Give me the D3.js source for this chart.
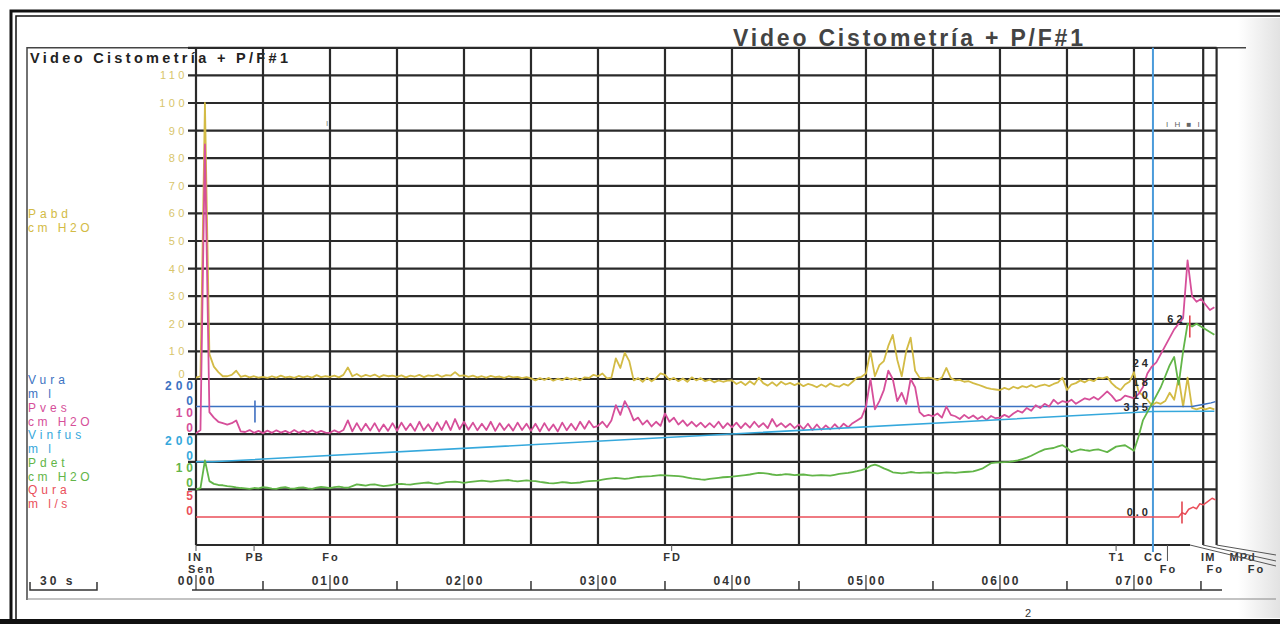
<!DOCTYPE html>
<html>
<head>
<meta charset="utf-8">
<script src="https://cdn.jsdelivr.net/npm/d3@7"></script>
<style>
body { margin: 0; background: #fff; }
svg { display: block; font-family: "Liberation Sans", Arial, sans-serif; }
</style>
</head>
<body>
<svg id="chart" width="1280" height="624"></svg>
<script>
/* Video Cistometria + P/F#1 - urodynamic trace, redrawn with d3 */

// pressure traces are sampled every 2 s, from 00:00 to 07:36
var step = 2;

// Pabd, cmH2O
var pabd = [0.5, 1, 100, 9, 4.5, 2.5, 1, 1, 1.5, 3, 0.8, 1.2, 0.6, 1, 0.5,
  0.8, 0.4, 1, 0.5, 1.2, 0.6, 0.9, 0.4, 1.1, 0.6, 1, 0.5, 1.4, 0.7, 1,
  0.8, 1.2, 0.6, 1.5, 4.2, 1, 1.8, 0.8, 1.5, 1, 1.6, 0.7, 1.4, 1, 1.2,
  0.8, 1.3, 0.6, 1.2, 0.9, 1.5, 0.7, 1.3, 1, 1.6, 0.8, 1.4, 1.2, 2.5, 1.1,
  1.3, 0.8, 1.2, 0.6, 1, 0.5, 1.1, 0.7, 0.9, 0.4, 1, 0.6, 0.8, 0.3, 0.7,
  0.2, -0.5, 0.3, -0.3, 0.4, -0.6, 0.1, -0.4, 0.5, -0.2, 0.3, -0.5, 0.6, 0.4, 1.5,
  1, 2, 0.2, 0.5, 7.5, 4, 9.5, 6.5, -0.5, 0.3, -1, 0.5, -0.8, 0.3, 2,
  1.5, -0.3, 0.4, -0.8, 0.2, -1, 0.6, -0.5, 0.3, -0.8, -0.2, -1.2, -0.5, -1, -0.6,
  -0.5, -1.8, -1, -2.2, -0.8, -2, 0.5, -1.5, -2.4, -1.2, -2.5, -1, -2, -1.4, -2.2,
  -1.5, -2.6, -1.8, -2.2, -3, -2, -2.8, -1.6, -2.5, -2.8, -1.8, -2.4, -1, 0.5, 0.8,
  2, 10, 1, 5, 6.5, 12, 16, 7, 1, 10, 15, 3, 0.5, 0.3, 0.5,
  0.2, -0.4, 0.5, 4, 0.3, -0.5, -0.3, -1, -0.8, -1.5, -2, -2.6, -3.2, -3.6, -3.8,
  -4, -3.2, -3.8, -2.8, -3.4, -2.6, -3, -2.2, -3, -2.4, -2, -2.6, -1.8, -1.2, 0.5,
  -4, -2, -1.5, -0.5, -1.2, -0.2, -0.8, 0.5, 0.2, 0.8, -1.5, -3, -4, -2, -1,
  2.5, -4.5, -6, -7.5, -9.5, -8.5, -9, -8, -5, -7.5, 0.5, -10, 0.5, -10.5, -11,
  -10.5, -11, -10.5, -11];

// Pves, cmH2O
var pves = [0.3, 1.5, 105, 8, 6, 4.5, 4, 3.5, 4, 5, 1, 0.8, 1.5, 0.5, 1.2,
  0.4, 1.3, 0.5, 1.4, 0.6, 1.2, 0.4, 1.5, 0.5, 1.3, 0.6, 1.4, 0.5, 1.2, 0.6,
  0.5, 1.4, 0.6, 1.5, 5, 1, 4, 1.2, 3.8, 1.3, 4, 1, 3.5, 1.2, 4,
  1.2, 4.2, 1.5, 3.8, 1.2, 4.5, 1.4, 3.6, 1.1, 4.3, 1.5, 4.8, 1.5, 5.5, 1.8,
  4.5, 1.6, 4.2, 1.4, 3.8, 1.5, 4.5, 1.2, 4, 1.5, 3.6, 1.3, 4.2, 1.5, 3.8,
  1.2, 3.8, 1, 4, 1.3, 3.5, 1, 4.2, 1.4, 3.8, 1.5, 4.5, 2, 4.8, 2.5,
  3, 4.5, 2.5, 5, 10.5, 7, 12, 9, 5, 6, 3.5, 5, 2.8, 4.5, 3,
  7.5, 4.5, 6, 3.5, 5, 3, 4.5, 2.8, 4.2, 2.5, 4, 2.5, 4.5, 2.2, 4,
  2.5, 4.2, 2.2, 4, 2.4, 4.5, 2.6, 4, 2.2, 5.5, 2.8, 4, 2.5, 3.8, 2.2,
  3.5, 1.8, 3.8, 1.5, 3.5, 1.6, 3.2, 1.8, 3.6, 2, 3.8, 2.5, 4, 5, 6,
  10, 20, 9, 12, 16, 23, 20, 12, 15, 11, 20, 17, 8, 6.5, 7,
  6.5, 7.5, 6, 10, 7, 6.5, 5.5, 7, 5.8, 6.8, 5.5, 6.5, 5.2, 6.6, 5.8,
  6, 7, 6.2, 7.5, 8.5, 7.8, 9.5, 8.5, 10.5, 9.5, 11, 10, 12.5, 11, 12,
  11.5, 12.5, 11, 12, 13, 12.5, 13.5, 12.5, 14, 15.5, 14, 12, 12.5, 14, 13.5,
  13, 14.5, 17, 22, 24.5, 26, 29, 32, 35, 38, 40, 42, 63, 50, 48,
  49, 47, 45, 46];

// Pdet, cmH2O
var pdet = [0, 0.5, 10.5, 3, 2, 1.6, 1.5, 1.2, 1, 0.7, 0.5, 0.4, 0.2, 0.5, 0.4,
  0.8, 0.6, 0.3, 0.2, 0.6, 0.8, 0.4, 0.3, 0.6, 0.7, 0.4, 0.2, 0.6, 0.9, 0.7,
  0.5, 0.8, 1, 0.7, 0.6, 1.2, 1.8, 1.6, 1.4, 1.7, 1.8, 1.5, 1.2, 1.4, 1.6,
  1.9, 2, 1.8, 1.7, 2, 2.2, 2.4, 2.5, 2.2, 2, 2.3, 2.6, 2.7, 2.8, 2.6,
  2.4, 2.6, 2.8, 3, 3.2, 3, 2.8, 3, 3.2, 3.3, 3.4, 3.1, 2.9, 3.1, 3.3,
  3.1, 3, 2.7, 2.5, 2.3, 2.2, 2.4, 2.6, 2.5, 2.3, 2.4, 2.5, 2.8, 3, 3.1,
  3.2, 3.5, 3.8, 4, 4.2, 4, 3.8, 4, 4.3, 4.5, 4.6, 4.7, 4.8, 5, 5.2,
  5.1, 5, 4.9, 4.8, 4.6, 4.3, 4, 3.8, 3.6, 3.5, 3.8, 4, 4.2, 4.4, 4.5,
  4.6, 4.8, 5, 5.2, 5.4, 5.7, 6, 5.9, 5.7, 5.4, 5.2, 5.3, 5.5, 5.4, 5.2,
  5.3, 5.4, 5.2, 5, 5.1, 5.2, 5.1, 5, 5.3, 5.6, 5.8, 6, 6.3, 6.6, 7,
  7.5, 8.5, 9, 8.4, 7.6, 7, 6.2, 6, 5.8, 6, 6.3, 6.1, 6, 6.1, 6.2,
  6, 5.8, 6, 6.2, 6.1, 6, 6.2, 6.3, 6.4, 6.5, 7, 7.5, 8.5, 9.5, 9.7,
  9.8, 9.9, 10, 10.2, 10.5, 11, 11.5, 12.2, 13, 13.8, 14.5, 14.8, 15, 15.6, 16,
  15, 13.5, 14, 14.5, 14.2, 14, 14.3, 14.5, 14, 13.5, 14.5, 15.5, 15.8, 16, 15,
  14, 19, 25, 28, 31, 34, 37, 41, 45, 48, 38, 50, 60, 59, 60,
  59, 58, 57, 56];

// volumes and flow are read at their break points (seconds, value)
var vinfusT = [0, 7.5, 428.5, 456];
var vinfusV = [0, 0, 365, 366];
var vuraT = [0, 446, 449, 452, 454.5, 456.5];
var vuraV = [0, 0, 9, 19, 27, 36];
var quraT = [0, 440, 441.5, 443, 444.5, 446.5, 448, 449.5, 451, 453, 455, 456.5];
var quraV = [0, 0, 0.8, 0.5, 1.4, 1.8, 1.5, 2.4, 2.2, 2.8, 3.4, 3.1];

// scale labels
var pabdTicks = [0, 10, 20, 30, 40, 50, 60, 70, 80, 90, 100, 110];
var laneNames = ['Vura', 'Pves', 'Vinfus', 'Pdet', 'Qura'];
var laneUnits = ['m l', 'cm H2O', 'm l', 'cm H2O', 'm l/s'];
var laneMax = [200, 10, 200, 10, 5];

// time axis
var gridTimes = [0, 30, 60, 90, 120, 150, 180, 210, 240, 270, 300, 330, 360, 390, 420];
var minuteTimes = [0, 60, 120, 180, 240, 300, 360, 420];
var minuteLabels = ['00', '01', '02', '03', '04', '05', '06', '07'];

// event marks under the trace
var eventNames = ['IN', 'PB', 'Fo', 'FD', 'T1', 'CC', 'IM', 'MPd'];
var eventTimes = [0, 26, 60, 213, 412, 428.5, 451, 457];
var eventNames2 = ['Sen', 'Fo', 'Fo', 'Fo'];
var eventTimes2 = [0, 435, 451, 457];

// little markers on traces
var markT = [26.4, 441.5, 445];
var markCh = ['vinfus', 'qura', 'pdet'];

// cursor readouts
var readText = ['24', '62', '18', '10', '365', '0.0'];
var readT = [428.5, 444, 428.5, 428.5, 428.5, 428.5];
var readCh = ['pves', 'pdet', 'pves', 'pabd', 'vinfus', 'qura'];
var readV = [24, 60, 17, -7.6, 360, 0];

var colors = {
  pabd: '#d3bb45', vura: '#3b72c2', pves: '#d64f9a',
  vinfus: '#35a8dc', pdet: '#62b548', qura: '#ea4f5a'
};
var laneKeys = ['vura', 'pves', 'vinfus', 'pdet', 'qura'];

var svg = d3.select('#chart');

var x = d3.scaleLinear().domain([0, 457]).range([196, 1216.6]);

var lane = 27.6;
var y = {
  pabd: d3.scaleLinear().domain([0, 110]).range([379, 379 - 11 * lane]),
  vura: d3.scaleLinear().domain([0, 200]).range([379 + lane, 379]),
  pves: d3.scaleLinear().domain([0, 10]).range([379 + 2 * lane, 379 + lane]),
  vinfus: d3.scaleLinear().domain([0, 200]).range([379 + 3 * lane, 379 + 2 * lane]),
  pdet: d3.scaleLinear().domain([0, 10]).range([379 + 4 * lane, 379 + 3 * lane]),
  qura: d3.scaleLinear().domain([0, 5]).range([379 + 5 * lane, 379 + 4 * lane])
};
var plotTop = 379 - 12 * lane;
var plotBottom = 545;

/******** page and frame ********/
var defs = svg.append('defs');
var grad = defs.append('linearGradient').attr('id', 'scan');
grad.append('stop').attr('offset', '0').attr('stop-color', '#ffffff');
grad.append('stop').attr('offset', '1').attr('stop-color', '#e2e2e2');
svg.append('rect').attr('x', 1238).attr('y', 18).attr('width', 42).attr('height', 600)
  .attr('fill', 'url(#scan)');

svg.append('path').attr('d', 'M11,624 V11 H1280').attr('fill', 'none')
  .attr('stroke', '#111').attr('stroke-width', 3);
svg.append('path').attr('d', 'M16,619 V16 H1280').attr('fill', 'none')
  .attr('stroke', '#111').attr('stroke-width', 1.5);
svg.append('line').attr('x1', 0).attr('x2', 1280).attr('y1', 621.5).attr('y2', 621.5)
  .attr('stroke', '#111').attr('stroke-width', 5);

svg.append('path').attr('d', 'M27,600 V' + plotTop + ' H1246').attr('fill', 'none')
  .attr('stroke', '#444').attr('stroke-width', 1.5);
svg.append('line').attr('x1', 27).attr('x2', 1276).attr('y1', 599).attr('y2', 599)
  .attr('stroke', '#888').attr('stroke-width', 1.2);

svg.append('text').attr('x', 908).attr('y', 46).attr('text-anchor', 'middle')
  .attr('font-size', 23).attr('font-weight', 'bold').attr('fill', '#444')
  .attr('textLength', 350).attr('lengthAdjust', 'spacing')
  .text('Video Cistometría + P/F#1');
svg.append('text').attr('x', 30).attr('y', 63)
  .attr('font-size', 14.5).attr('font-weight', 'bold').attr('fill', '#222')
  .attr('textLength', 258).attr('lengthAdjust', 'spacing')
  .text('Video Cistometría + P/F#1');

svg.append('text').attr('x', 1025).attr('y', 617).attr('font-size', 11)
  .attr('fill', '#333').text('2');

/******** grid ********/
var grid = svg.append('g').attr('stroke', '#2a2a2a').attr('stroke-width', 2.2);

var hLines = pabdTicks.map(v => y.pabd(v))
  .concat([plotTop, y.pves(0), y.vinfus(0), y.pdet(0)]);
grid.selectAll('line.h').data(hLines).enter().append('line')
  .attr('class', 'h')
  .attr('x1', 188).attr('x2', x(457))
  .attr('y1', d => d).attr('y2', d => d);
grid.append('line').attr('x1', x(0)).attr('x2', 1190)
  .attr('y1', plotBottom).attr('y2', plotBottom);

var vTimes = gridTimes.concat([eventTimes[6], eventTimes[7]]);
grid.selectAll('line.v').data(vTimes).enter().append('line')
  .attr('class', 'v')
  .attr('x1', d => x(d)).attr('x2', d => x(d))
  .attr('y1', plotTop).attr('y2', plotBottom);

// CC cursor
svg.append('line').attr('x1', x(eventTimes[5])).attr('x2', x(eventTimes[5]))
  .attr('y1', plotTop).attr('y2', 552)
  .attr('stroke', '#4b9bdb').attr('stroke-width', 2);

/******** scale labels ********/
var pabdAxis = d3.axisLeft(y.pabd).tickValues(pabdTicks).tickSize(0).tickPadding(6);
var gA = svg.append('g').attr('transform', 'translate(194,0)').call(pabdAxis);
gA.select('.domain').remove();
gA.selectAll('text').attr('fill', '#d8c56a').attr('font-size', 11)
  .attr('font-family', '"Liberation Sans", Arial, sans-serif')
  .attr('letter-spacing', 3.5)
  .attr('y', d => d == 0 ? -5 : 0);

svg.append('text').attr('x', 28).attr('y', 218).attr('font-size', 12)
  .attr('letter-spacing', 4).attr('fill', colors.pabd).text('Pabd');
svg.append('text').attr('x', 28).attr('y', 232).attr('font-size', 12)
  .attr('letter-spacing', 3.5).attr('fill', colors.pabd).text('cm H2O');

laneKeys.forEach(function (k, i) {
  var s = y[k];
  var top = s(laneMax[i]);
  svg.append('text').attr('x', 28).attr('y', top + 5).attr('font-size', 12)
    .attr('letter-spacing', 4).attr('fill', colors[k]).text(laneNames[i]);
  svg.append('text').attr('x', 28).attr('y', top + 19).attr('font-size', 12)
    .attr('letter-spacing', 3.5).attr('fill', colors[k]).text(laneUnits[i]);
  svg.append('text').attr('x', 197).attr('y', top + 10.5).attr('text-anchor', 'end')
    .attr('font-size', 12).attr('font-weight', 'bold').attr('letter-spacing', 4)
    .attr('fill', colors[k]).text(laneMax[i]);
  svg.append('text').attr('x', 197).attr('y', s(0) - 2).attr('text-anchor', 'end')
    .attr('font-size', 12).attr('font-weight', 'bold').attr('letter-spacing', 4)
    .attr('fill', colors[k]).text('0');
});

/******** traces ********/
function sampled(arr) {
  return arr.map((v, i) => ({ t: i * step, v: v }));
}
function paired(ts, vs) {
  return ts.map((t, i) => ({ t: t, v: vs[i] }));
}

var traces = [
  { key: 'pabd', data: sampled(pabd) },
  { key: 'vura', data: paired(vuraT, vuraV) },
  { key: 'pves', data: sampled(pves) },
  { key: 'vinfus', data: paired(vinfusT, vinfusV) },
  { key: 'pdet', data: sampled(pdet) },
  { key: 'qura', data: paired(quraT, quraV) }
];

var g = svg.append('g').attr('fill', 'none').attr('stroke-linejoin', 'round');
traces.forEach(function (tr) {
  var line = d3.line().x(d => x(d.t)).y(d => y[tr.key](d.v));
  g.append('path').datum(tr.data).attr('d', line)
    .attr('stroke', colors[tr.key])
    .attr('stroke-width', tr.key == 'vura' || tr.key == 'vinfus' || tr.key == 'qura' ? 1.5 : 1.8);
});

// short marks on traces
function valueAt(key, t) {
  var tr = traces.find(d => d.key == key).data;
  var b = d3.bisector(d => d.t).left(tr, t);
  return tr[Math.min(b, tr.length - 1)].v;
}
markT.forEach(function (t, i) {
  var k = markCh[i];
  var yc = y[k](valueAt(k, t));
  svg.append('line').attr('x1', x(t)).attr('x2', x(t))
    .attr('y1', yc - 11).attr('y2', yc + 11)
    .attr('stroke', k == 'vinfus' ? '#3f6fc0' : '#e2454f').attr('stroke-width', 1.6);
});

// cursor readouts
readText.forEach(function (s, i) {
  svg.append('text').attr('x', x(readT[i]) - 2).attr('y', y[readCh[i]](readV[i]) - 1)
    .attr('text-anchor', 'end').attr('font-size', 11).attr('font-weight', 'bold')
    .attr('letter-spacing', 3).attr('fill', '#2a2a2a').text(s);
});

// tiny marks at the top
svg.append('text').attr('x', 326).attr('y', 126).attr('font-size', 8)
  .attr('fill', '#777').text('I');
svg.append('text').attr('x', 1166).attr('y', 127).attr('font-size', 8)
  .attr('fill', '#666').attr('letter-spacing', 2).text('I    H ■ I');

/******** event labels ********/
var ev = svg.append('g').attr('font-size', 11).attr('font-weight', 'bold')
  .attr('fill', '#333').attr('letter-spacing', 2);
var shift = { 6: 4, 7: 25 };
eventNames.forEach(function (n, i) {
  var ex = x(eventTimes[i]) + (shift[i] || 0);
  ev.append('text').attr('x', ex).attr('y', 561).attr('text-anchor', i == 0 ? 'start' : 'middle')
    .attr('dx', i == 0 ? -8 : 1).attr('letter-spacing', i > 5 ? 1 : 2).text(n);
  if (i < 6 && i != 2 && i != 5) {
    svg.append('line').attr('x1', x(eventTimes[i])).attr('x2', x(eventTimes[i]))
      .attr('y1', plotBottom).attr('y2', 551).attr('stroke', '#555').attr('stroke-width', 1);
  }
});
var shift2 = { 2: 11, 3: 39 };
eventNames2.forEach(function (n, i) {
  var ex = x(eventTimes2[i]) + (shift2[i] || 0);
  ev.append('text').attr('x', ex).attr('y', 573).attr('text-anchor', i == 0 ? 'start' : 'middle')
    .attr('dx', i == 0 ? -8 : 1).text(n);
});
svg.append('line').attr('x1', x(eventTimes2[1])).attr('x2', x(eventTimes2[1]))
  .attr('y1', plotBottom).attr('y2', 561).attr('stroke', '#555').attr('stroke-width', 1);
// leader lines to the crowded labels at the end
[[1190, 566], [1203, 561], [1216.6, 555]].forEach(function (p) {
  svg.append('line').attr('x1', p[0]).attr('y1', plotBottom).attr('x2', 1276).attr('y2', p[1])
    .attr('stroke', '#555').attr('stroke-width', 1);
});

/******** time axis ********/
var ax = svg.append('g').attr('stroke', '#333').attr('stroke-width', 1.5);
ax.append('line').attr('x1', x(0) - 4).attr('x2', 1222).attr('y1', 590).attr('y2', 590);
ax.selectAll('line.half').data(gridTimes.filter(t => t % 60 == 30).concat([450])).enter()
  .append('line').attr('x1', d => x(d)).attr('x2', d => x(d))
  .attr('y1', 581).attr('y2', 590);
ax.selectAll('line.min').data(minuteTimes).enter().append('line')
  .attr('x1', d => x(d)).attr('x2', d => x(d))
  .attr('y1', 575).attr('y2', 590).attr('stroke-width', 1.2);

var tl = svg.append('g').attr('font-size', 12).attr('font-weight', 'bold')
  .attr('fill', '#333').attr('letter-spacing', 2);
minuteTimes.forEach(function (t, i) {
  tl.append('text').attr('x', x(t) - 1).attr('y', 585).attr('text-anchor', 'end').text(minuteLabels[i]);
  tl.append('text').attr('x', x(t) + 3).attr('y', 585).text('00');
});

// 30 s scale bar
svg.append('path').attr('d', 'M' + (x(0) - 166) + ',582 V590 H' + (x(30) - 166) + ' V582')
  .attr('fill', 'none').attr('stroke', '#333').attr('stroke-width', 1.5);
svg.append('text').attr('x', 40).attr('y', 585).attr('font-size', 12).attr('font-weight', 'bold')
  .attr('letter-spacing', 3).attr('fill', '#333').text('30 s');
</script>
</body>
</html>
